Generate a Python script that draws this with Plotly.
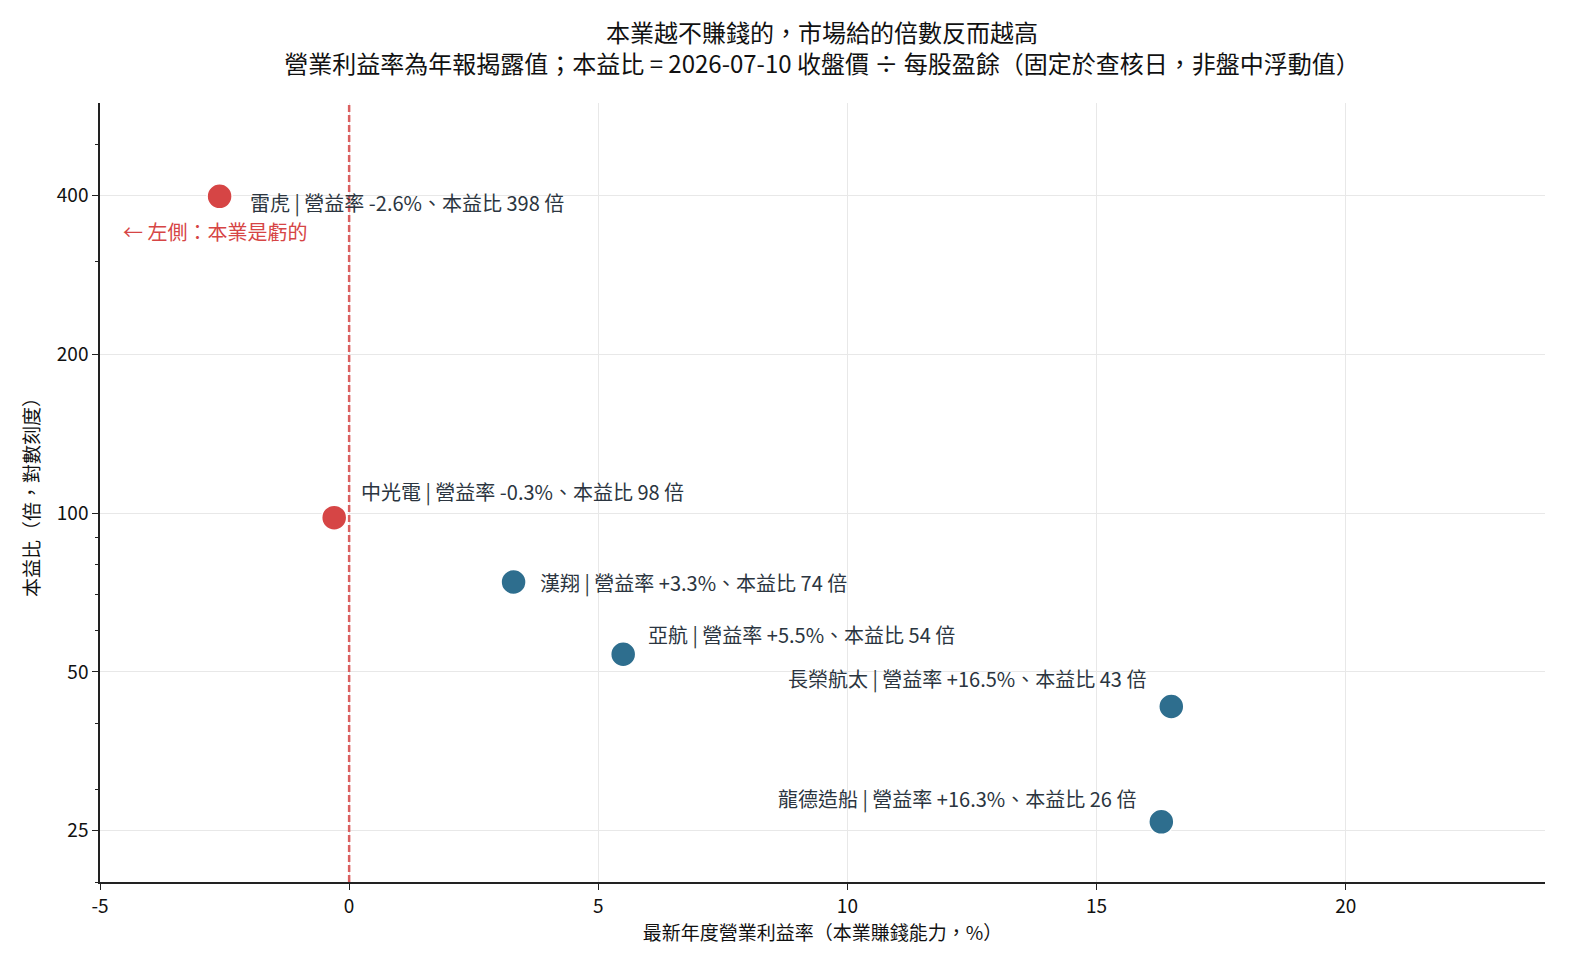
import math
import plotly.graph_objects as go

# ---- data ----
companies = ["雷虎", "中光電", "漢翔", "亞航", "長榮航太", "龍德造船"]
op_margin = [-2.6, -0.3, 3.3, 5.5, 16.5, 16.3]
pe_ratio = [398, 98, 74, 54, 43, 26]
x_ticks = [-5, 0, 5, 10, 15, 20]
y_ticks = [25, 50, 100, 200, 400]
y_minor = [20, 30, 40, 60, 70, 80, 90, 300, 500, 600]

RED = "#d64545"
BLUE = "#2e6e8e"
TXT = "#2b3540"
FONT = "Noto Sans CJK TC"

colors = [RED if m < 0 else BLUE for m in op_margin]

# label placement (pixel offsets from point) : (xanchor, xshift, yshift)
placement = {
    "雷虎": ("left", 28, -6),
    "中光電": ("left", 25, 26),
    "漢翔": ("left", 24, 0),
    "亞航": ("left", 23, 20),
    "長榮航太": ("right", -23, 28),
    "龍德造船": ("right", -23, 23),
}

fig = go.Figure()
fig.add_trace(go.Scatter(
    x=op_margin, y=pe_ratio, mode="markers",
    marker=dict(size=25, color=colors, line=dict(width=1.5, color="white")),
    hoverinfo="skip", showlegend=False,
))

annotations = []
for name, m, pe in zip(companies, op_margin, pe_ratio):
    xa, xs, ys = placement[name]
    sign = "+" if m > 0 else ""
    annotations.append(dict(
        x=m, y=math.log10(pe), xref="x", yref="y",
        text=f"{name} | 營益率 {sign}{m:.1f}%、本益比 {pe} 倍",
        showarrow=False, xanchor=xa, yanchor="middle",
        xshift=xs, yshift=ys,
        font=dict(family=FONT, size=20, color=TXT),
    ))

annotations.append(dict(
    x=-4.57, y=math.log10(342), xref="x", yref="y",
    text="← 左側：本業是虧的", showarrow=False,
    xanchor="left", yanchor="middle",
    font=dict(family=FONT, size=20, color=RED),
))

fig.add_shape(type="line", x0=0, x1=0, y0=0, y1=1, xref="x", yref="paper",
              line=dict(color="rgba(214,69,69,0.85)", width=2.5, dash="7px,3px"),
              layer="above")

fig.update_layout(
    width=1575, height=975,
    paper_bgcolor="white", plot_bgcolor="white",
    margin=dict(l=100, r=30, t=103, b=93),
    font=dict(family=FONT, color="#111111"),
    title=dict(
        text="本業越不賺錢的，市場給的倍數反而越高<br>營業利益率為年報揭露值；本益比 = 2026-07-10 收盤價 ÷ 每股盈餘（固定於查核日，非盤中浮動值）",
        x=0.5219, xanchor="center", y=0.957, yanchor="top",
        font=dict(family=FONT, size=24, color="#111111"),
    ),
    annotations=annotations,
    showlegend=False,
)

fig.update_xaxes(
    range=[-5, 24], tickvals=x_ticks, ticktext=[str(v) for v in x_ticks],
    showgrid=True, gridcolor="#e8e8e8", gridwidth=1, zeroline=False,
    showline=True, linecolor="#222222", linewidth=1.5, mirror=False,
    ticks="outside", ticklen=6, tickcolor="#222222", tickwidth=1.2,
    tickfont=dict(family=FONT, size=19, color="#111111"),
    title=dict(text="最新年度營業利益率（本業賺錢能力，%）", standoff=10,
               font=dict(family=FONT, size=19, color="#111111")),
)
fig.update_yaxes(
    type="log", range=[math.log10(20), math.log10(598)],
    tickvals=y_ticks, ticktext=[str(v) for v in y_ticks],
    showgrid=True, gridcolor="#e8e8e8", gridwidth=1, zeroline=False,
    showline=True, linecolor="#222222", linewidth=1.5, mirror=False,
    ticks="outside", ticklen=6, tickcolor="#222222", tickwidth=1.2,
    tickfont=dict(family=FONT, size=19, color="#111111"),
    minor=dict(tickvals=y_minor, ticks="outside", ticklen=3, tickcolor="#222222", showgrid=False),
    title=dict(text="本益比（倍，對數刻度）", standoff=12,
               font=dict(family=FONT, size=19, color="#111111")),
)

fig.write_html("out.html")
